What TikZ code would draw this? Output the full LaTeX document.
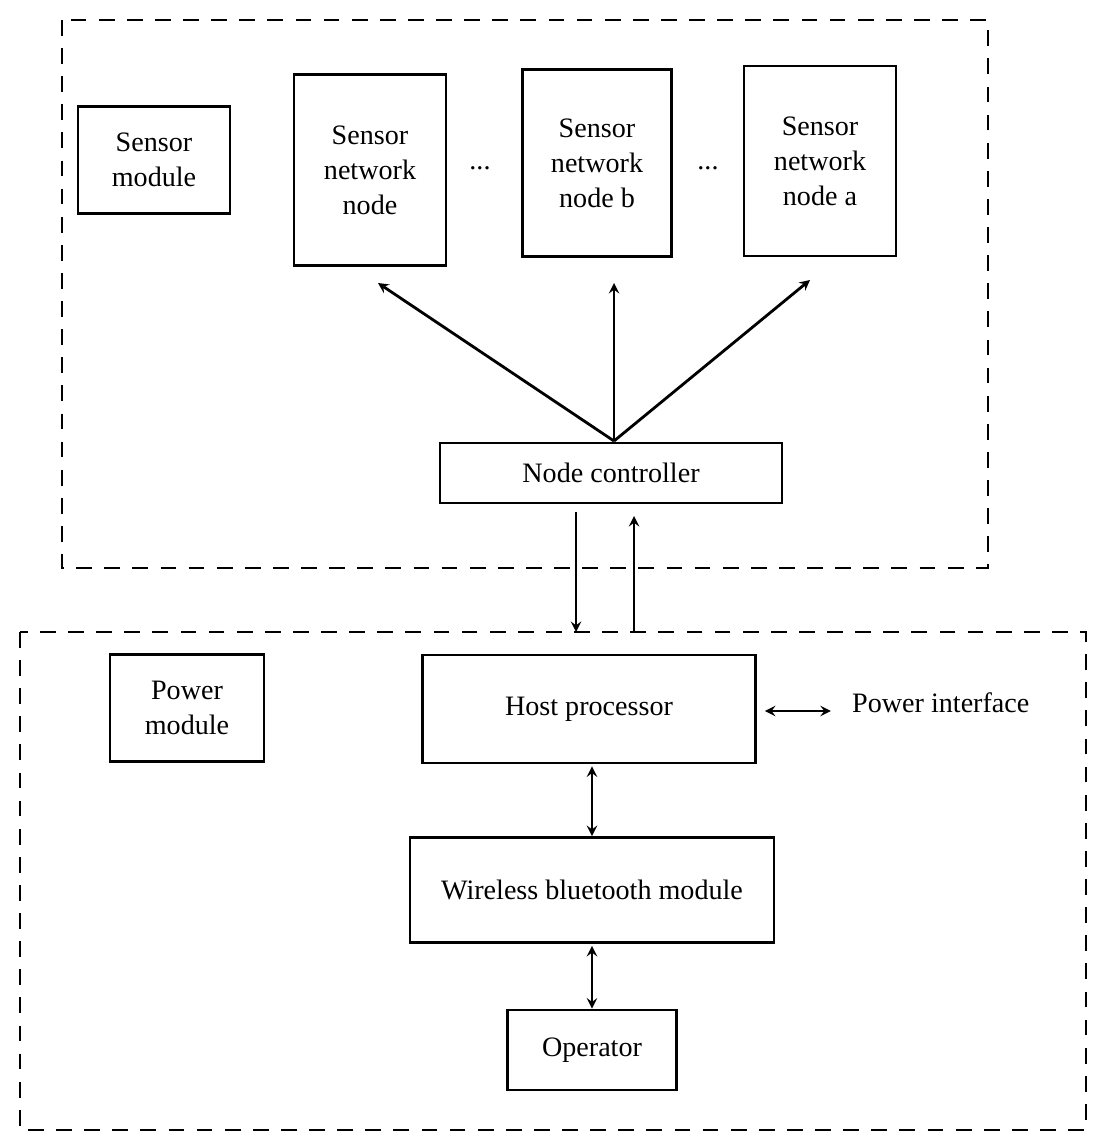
\documentclass[tikz,border=0pt]{standalone}
\usepackage{fontspec}
\setmainfont{Liberation Serif}
\usetikzlibrary{arrows,positioning,calc}
\tikzset{
    boxsty/.style={draw,line width=1.6pt,rectangle,align=center,font=\fontsize{16}{20}\selectfont,inner sep=0pt},
    dashsty/.style={draw,line width=1.6pt,dash pattern=on 9pt off 7pt},
    arrsty/.style={line width=1.6pt,-{stealth}},
    dblsty/.style={line width=1.6pt,{stealth}-{stealth}},
    txtsty/.style={font=\fontsize{16}{20}\selectfont},
}
\begin{document}
\begin{tikzpicture}[x=0.02cm,y=-0.02cm,>=stealth]
\useasboundingbox (0,0) rectangle (1108,1148);
% outer module frames
\draw[dashsty] (62,20) rectangle (988,568);
\draw[dashsty] (20,632) rectangle (1086,1130);
% sensor module
\node[boxsty,minimum width=152*0.02cm,minimum height=107*0.02cm] (smod) at (154,160) {Sensor\\module};
\node[boxsty,minimum width=152*0.02cm,minimum height=191*0.02cm] (snn) at (370,170) {Sensor\\network\\node};
\node[boxsty,minimum width=149*0.02cm,minimum height=187*0.02cm] (snnb) at (597,163) {Sensor\\network\\node b};
\node[boxsty,minimum width=152*0.02cm,minimum height=190*0.02cm] (snna) at (820,161) {Sensor\\network\\node a};
\node[txtsty] (dotsa) at (480,168) {...};
\node[txtsty] (dotsb) at (708,168) {...};
\node[boxsty,minimum width=342*0.02cm,minimum height=60*0.02cm] (nctl) at (611,473) {Node controller};
\coordinate (src) at (614,441);
\coordinate (tsnn) at (378,283);
\coordinate (tsnnb) at (614,283);
\coordinate (tsnna) at (810,280);
\draw[arrsty] (src) -- (tsnn);
\draw[arrsty] (src) -- (tsnnb);
\draw[arrsty] (src) -- (tsnna);
% power module
\node[boxsty,minimum width=154*0.02cm,minimum height=107*0.02cm] (pmod) at (187,708) {Power\\module};
\node[boxsty,minimum width=333*0.02cm,minimum height=108*0.02cm] (host) at (589,709) {Host processor};
\node[txtsty,anchor=west] (pint) at (846,703) {Power interface};
\node[boxsty,minimum width=364*0.02cm,minimum height=105*0.02cm] (wbm) at (592,890) {Wireless bluetooth module};
\node[boxsty,minimum width=169*0.02cm,minimum height=80*0.02cm] (oper) at (592,1050) {Operator};
\coordinate (dtop) at (576,512);
\coordinate (dbot) at (576,632);
\coordinate (ubot) at (634,632);
\coordinate (utop) at (634,516);
\draw[arrsty] (dtop) -- (dbot);
\draw[arrsty] (ubot) -- (utop);
\draw[dblsty] (host.east) ++(8,2) -- ++(66,0);
\draw[dblsty] (host.south -| wbm.north) ++(0,2) -- (wbm.north);
\draw[dblsty] (wbm.south) ++(0,2) -- (oper.north);
\end{tikzpicture}
\end{document}
